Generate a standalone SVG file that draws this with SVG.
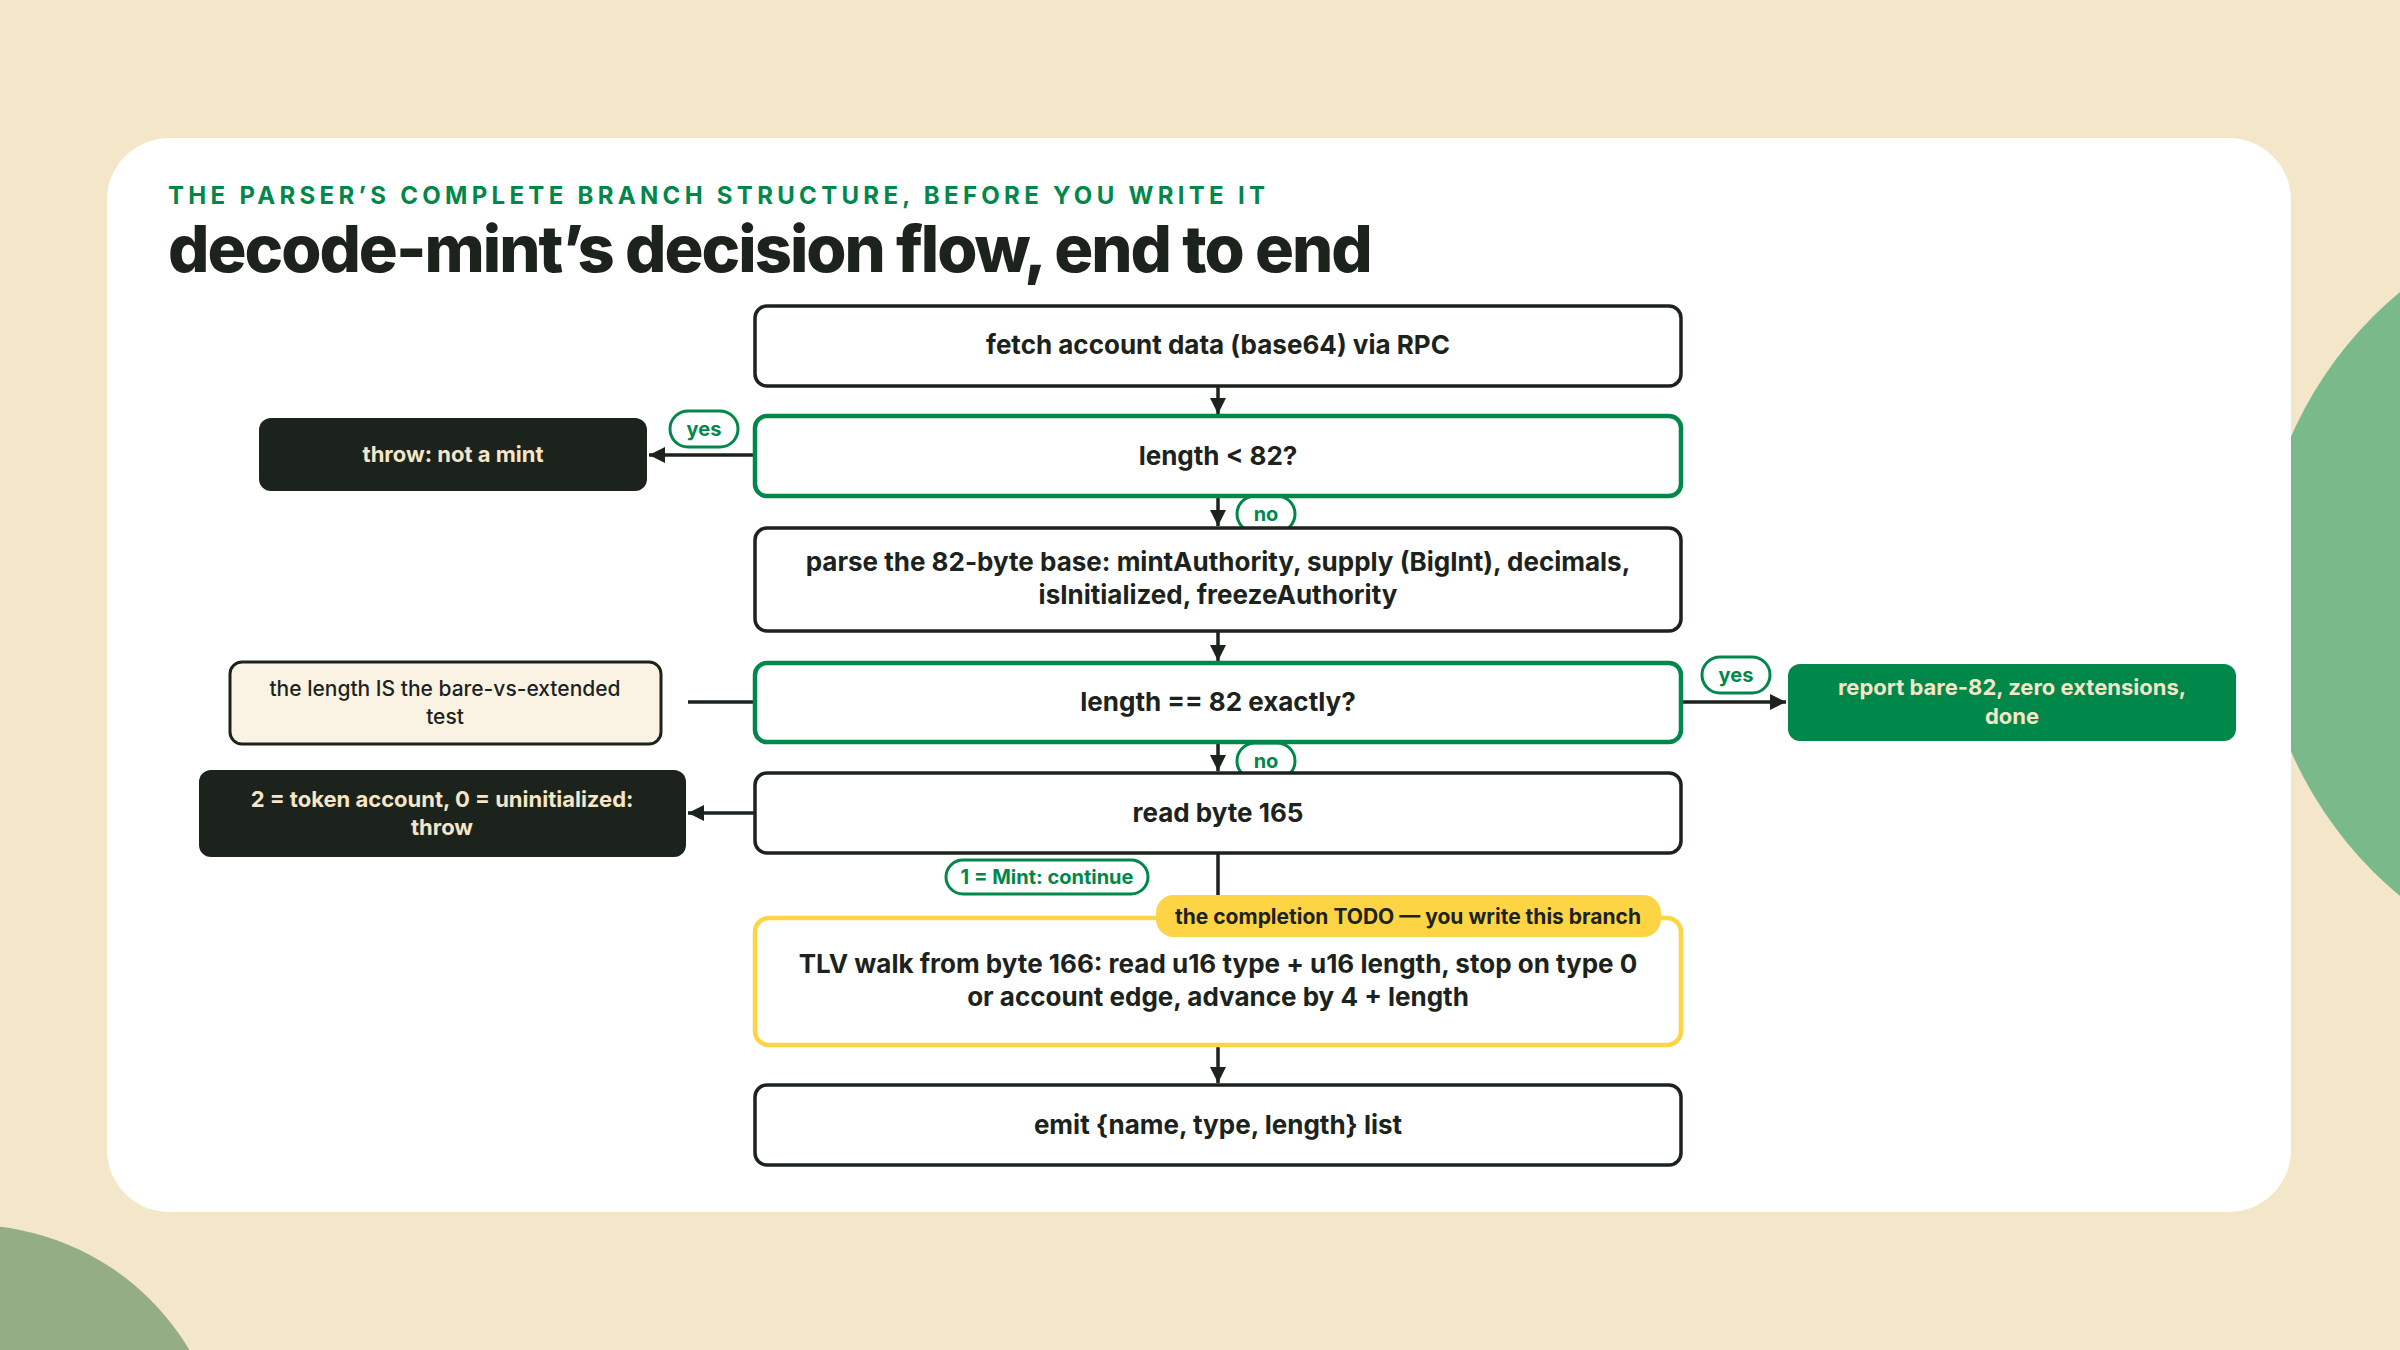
<svg xmlns="http://www.w3.org/2000/svg" width="2400" height="1350" viewBox="0 0 2400 1350">
<defs>
<marker id="ah" viewBox="0 0 10 10" refX="10" refY="5" markerWidth="16" markerHeight="16" orient="auto-start-reverse" markerUnits="userSpaceOnUse">
<path d="M0,0 L10,5 L0,10 z" fill="#1c231d"/>
</marker>
<style>
text{font-family:Inter,"Liberation Sans",sans-serif;}
.box{fill:#fff;stroke:#1c231d;stroke-width:3.5;}
.gbox{fill:#fff;stroke:#00874a;stroke-width:4.5;}
.t{font-size:26px;font-weight:700;fill:#1c231d;text-anchor:middle;}
.tl{font-size:22px;font-weight:700;fill:#f5e6c8;text-anchor:middle;}
.pill{fill:#fff;stroke:#00874a;stroke-width:3;}
.pt{font-size:20px;font-weight:700;fill:#00874a;text-anchor:middle;}
.ln{stroke:#1c231d;stroke-width:3.5;fill:none;}
</style>
</defs>
<rect width="2400" height="1350" fill="#f4e6c9"/>
<circle cx="2650" cy="594" r="392" fill="#7ab98a"/>
<circle cx="-30" cy="1480" r="255" fill="#94ad84"/>
<rect x="107" y="138" width="2184" height="1074" rx="62" fill="#fff"/>
<text x="168" y="204" font-size="24" font-weight="700" fill="#00874a" letter-spacing="4.3">THE PARSER’S COMPLETE BRANCH STRUCTURE, BEFORE YOU WRITE IT</text>
<text x="168" y="272" font-size="65" font-weight="800" fill="#1c231d" letter-spacing="-2">decode-mint’s decision flow, end to end</text>

<g id="connectors">
<line class="ln" x1="1218" y1="386" x2="1218" y2="414" marker-end="url(#ah)"/>
<line class="ln" x1="1218" y1="496" x2="1218" y2="526" marker-end="url(#ah)"/>
<line class="ln" x1="1218" y1="631" x2="1218" y2="661" marker-end="url(#ah)"/>
<line class="ln" x1="1218" y1="742" x2="1218" y2="771" marker-end="url(#ah)"/>
<line class="ln" x1="1218" y1="853" x2="1218" y2="895"/>
<line class="ln" x1="1218" y1="1045" x2="1218" y2="1083" marker-end="url(#ah)"/>
<line class="ln" x1="755" y1="455" x2="649" y2="455" marker-end="url(#ah)"/>
<line class="ln" x1="688" y1="702" x2="755" y2="702"/>
<line class="ln" x1="1681" y1="702" x2="1786" y2="702" marker-end="url(#ah)"/>
<line class="ln" x1="755" y1="813" x2="688" y2="813" marker-end="url(#ah)"/>
<g id="lbl-yes1"><rect class="pill" x="670" y="411" width="68" height="36" rx="18"/><text class="pt" x="704" y="436">yes</text></g>
<g id="lbl-no1"><rect class="pill" x="1237" y="496" width="58" height="36" rx="18"/><text class="pt" x="1266" y="521">no</text></g>
<g id="lbl-yes2"><rect class="pill" x="1702" y="657" width="68" height="36" rx="18"/><text class="pt" x="1736" y="682">yes</text></g>
<g id="lbl-no2"><rect class="pill" x="1237" y="743" width="58" height="36" rx="18"/><text class="pt" x="1266" y="768">no</text></g>
<g id="lbl-mint"><rect class="pill" x="946" y="860" width="202" height="34" rx="17"/><text class="pt" x="1047" y="884">1 = Mint: continue</text></g>
</g>

<g id="n-fetch"><rect class="box" x="755" y="306" width="926" height="80" rx="12"/><text class="t" x="1218" y="354">fetch account data (base64) via RPC</text></g>
<g id="n-len82"><rect class="gbox" x="755" y="416" width="926" height="80" rx="12"/><text class="t" x="1218" y="465">length &lt; 82?</text></g>
<g id="n-throw"><rect x="259" y="418" width="388" height="73" rx="12" fill="#1c231d"/><text class="tl" x="453" y="462">throw: not a mint</text></g>
<g id="n-parse"><rect class="box" x="755" y="528" width="926" height="103" rx="12"/><text class="t" x="1218" y="571">parse the 82-byte base: mintAuthority, supply (BigInt), decimals,</text><text class="t" x="1218" y="604">isInitialized, freezeAuthority</text></g>
<g id="n-eq82"><rect class="gbox" x="755" y="663" width="926" height="79" rx="12"/><text class="t" x="1218" y="711">length == 82 exactly?</text></g>
<g id="n-note"><rect x="230" y="662" width="431" height="82" rx="12" fill="#faf3e3" stroke="#1c231d" stroke-width="3"/><text x="445" y="696" font-size="21" font-weight="500" fill="#1c231d" text-anchor="middle">the length IS the bare-vs-extended</text><text x="445" y="724" font-size="21" font-weight="500" fill="#1c231d" text-anchor="middle">test</text></g>
<g id="n-report"><rect x="1788" y="664" width="448" height="77" rx="12" fill="#00874a"/><text class="tl" x="2012" y="695" font-size="24">report bare-82, zero extensions,</text><text class="tl" x="2012" y="724" font-size="24">done</text></g>
<g id="n-read"><rect class="box" x="755" y="773" width="926" height="80" rx="12"/><text class="t" x="1218" y="822">read byte 165</text></g>
<g id="n-token"><rect x="199" y="770" width="487" height="87" rx="12" fill="#1c231d"/><text class="tl" x="442" y="807">2 = token account, 0 = uninitialized:</text><text class="tl" x="442" y="835">throw</text></g>
<g id="n-tlv"><rect x="755" y="918" width="926" height="127" rx="14" fill="#fff" stroke="#fdd444" stroke-width="4.5"/><text class="t" x="1218" y="973">TLV walk from byte 166: read u16 type + u16 length, stop on type 0</text><text class="t" x="1218" y="1006">or account edge, advance by 4 + length</text>
<rect x="1156" y="895" width="505" height="42" rx="18" fill="#fdd444"/><text x="1408" y="924" font-size="21" font-weight="700" fill="#1c231d" text-anchor="middle">the completion TODO — you write this branch</text></g>
<g id="n-emit"><rect class="box" x="755" y="1085" width="926" height="80" rx="12"/><text class="t" x="1218" y="1134">emit {name, type, length} list</text></g>
</svg>
